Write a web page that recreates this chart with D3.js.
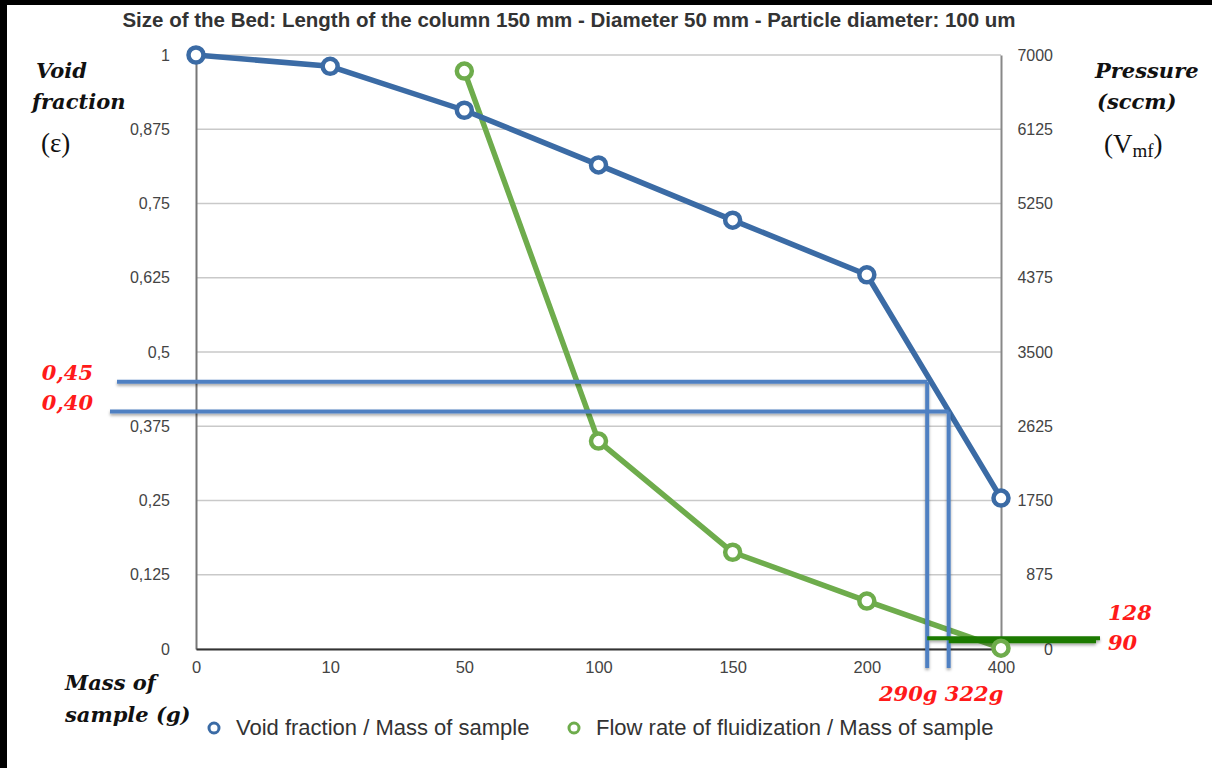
<!DOCTYPE html>
<html><head><meta charset="utf-8">
<script src="https://cdn.jsdelivr.net/npm/d3@7"></script>
<style>
html,body{margin:0;padding:0;background:#fff;}
svg{display:block;}
</style></head><body>
<svg id="chart" width="1212" height="768"></svg>
<script>
// Mass of sample (g) — categorical x positions
const masses = ["0", "10", "50", "100", "150", "200", "400"];
// Void fraction (ε) for each mass
const voidFraction = [1.0, 0.981, 0.907, 0.815, 0.722, 0.630, 0.254];
// Flow rate of fluidization (sccm), measured from 50 g upward
const flowMasses = ["50", "100", "150", "200", "400"];
const flowRate = [6810, 2450, 1140, 565, 10];
// Axis ticks
const leftTicks = [0, 0.125, 0.25, 0.375, 0.5, 0.625, 0.75, 0.875, 1];
const rightTicks = [0, 875, 1750, 2625, 3500, 4375, 5250, 6125, 7000];
// Read-off guides: mass, void fraction and flow rate
const crossMass = [290, 322];
const crossVoid = [0.45, 0.40];
const crossFlow = [128, 90];

const titleText = "Size of the Bed: Length of the column 150 mm - Diameter 50 mm - Particle diameter: 100 um";
const seriesNames = ["Void fraction / Mass of sample", "Flow rate of fluidization / Mass of sample"];

const BLUE = "#3b6ba5", GREEN = "#6eac4c", GUIDE_BLUE = "#4f80c2", GUIDE_GREEN = "#1c7a05";
const SANS = "'Liberation Sans', Arial, sans-serif";
const SERIF = "'DejaVu Serif', 'Liberation Serif', serif";

const svg = d3.select("#chart");
const plot = {left: 196, right: 1001, top: 55, bottom: 649};

const x = d3.scalePoint().domain(masses).range([plot.left, plot.right]).padding(0);
// continuous mass scale that follows the categorical positions, for the read-off guides
const xMass = d3.scaleLinear().domain(masses.map(Number)).range(masses.map(m => x(m)));
const yL = d3.scaleLinear().domain([0, 1]).range([plot.bottom, plot.top]);
const yR = d3.scaleLinear().domain([0, 7000]).range([plot.bottom, plot.top]);

const defs = svg.append("defs");
const sh = defs.append("filter").attr("id", "shadow").attr("x", "-10%").attr("y", "-200%").attr("width", "120%").attr("height", "500%");
sh.append("feDropShadow").attr("dx", 0).attr("dy", 2).attr("stdDeviation", 1.5).attr("flood-color", "#000").attr("flood-opacity", 0.35);

// frame
svg.append("rect").attr("x", 0).attr("y", 0).attr("width", 1212).attr("height", 768).attr("fill", "#fff");
svg.append("line").attr("x1", 0).attr("x2", 1212).attr("y1", 2.5).attr("y2", 2.5).attr("stroke", "#000").attr("stroke-width", 5);
svg.append("line").attr("x1", 3.5).attr("x2", 3.5).attr("y1", 0).attr("y2", 768).attr("stroke", "#000").attr("stroke-width", 7);

// title
svg.append("text").attr("x", 569).attr("y", 27).attr("text-anchor", "middle")
  .attr("font-family", SANS).attr("font-weight", "bold").attr("font-size", 20.5).attr("fill", "#333")
  .text(titleText);

// grid
svg.append("g").selectAll("line").data(leftTicks).join("line")
  .attr("x1", plot.left).attr("x2", plot.right)
  .attr("y1", d => yL(d)).attr("y2", d => yL(d))
  .attr("stroke", "#c9c9c9").attr("stroke-width", 1.5);

// left axis
const fmtComma = d => String(d).replace(".", ",");
const gL = svg.append("g").attr("transform", `translate(${plot.left},0)`)
  .call(d3.axisLeft(yL).tickValues(leftTicks).tickFormat(fmtComma).tickSize(0).tickPadding(26));
gL.select(".domain").attr("stroke", "#777").attr("stroke-width", 2);
gL.selectAll("text").attr("font-family", SANS).attr("font-size", 16).attr("fill", "#444");

// right axis
const gR = svg.append("g").attr("transform", `translate(${plot.right},0)`)
  .call(d3.axisRight(yR).tickValues(rightTicks).tickFormat(d3.format("d")).tickSize(0).tickPadding(52));
gR.select(".domain").attr("stroke", "#888").attr("stroke-width", 2);
gR.selectAll("text").attr("text-anchor", "end").attr("font-family", SANS).attr("font-size", 16).attr("fill", "#444");

// bottom axis
const gB = svg.append("g").attr("transform", `translate(0,${plot.bottom})`)
  .call(d3.axisBottom(x).tickSize(0).tickPadding(12));
gB.select(".domain").attr("stroke", "#333").attr("stroke-width", 2);
gB.selectAll("text").attr("font-family", SANS).attr("font-size", 16.5).attr("fill", "#444");

// series
const voidPts = masses.map((m, i) => [x(m), yL(voidFraction[i])]);
const flowPts = flowMasses.map((m, i) => [x(m), yR(flowRate[i])]);
const line = d3.line();

svg.append("path").attr("d", line(flowPts)).attr("fill", "none").attr("stroke", GREEN).attr("stroke-width", 5.5).attr("stroke-linejoin", "round");
svg.append("path").attr("d", line(voidPts)).attr("fill", "none").attr("stroke", BLUE).attr("stroke-width", 5.5).attr("stroke-linejoin", "round");

// read-off guides
const gG = svg.append("g").attr("filter", "url(#shadow)");
const guideLeft = [117, 110];
crossMass.forEach((m, i) => {
  const gx = xMass(m);
  gG.append("line").attr("x1", guideLeft[i]).attr("x2", gx).attr("y1", yL(crossVoid[i])).attr("y2", yL(crossVoid[i]))
    .attr("stroke", GUIDE_BLUE).attr("stroke-width", 4);
  gG.append("line").attr("x1", gx).attr("x2", gx).attr("y1", yL(crossVoid[i])).attr("y2", 668)
    .attr("stroke", GUIDE_BLUE).attr("stroke-width", 4);
});
const guideRight = [1100, 1096];
crossMass.forEach((m, i) => {
  gG.append("line").attr("x1", xMass(m)).attr("x2", guideRight[i]).attr("y1", yR(crossFlow[i])).attr("y2", yR(crossFlow[i]))
    .attr("stroke", GUIDE_GREEN).attr("stroke-width", 4);
});

// markers
svg.append("g").selectAll("circle").data(flowPts).join("circle")
  .attr("cx", d => d[0]).attr("cy", d => d[1]).attr("r", 7.5)
  .attr("fill", "#fff").attr("stroke", GREEN).attr("stroke-width", 4.5);
svg.append("g").selectAll("circle").data(voidPts).join("circle")
  .attr("cx", d => d[0]).attr("cy", d => d[1]).attr("r", 7.5)
  .attr("fill", "#fff").attr("stroke", BLUE).attr("stroke-width", 4.5);

// axis titles
function label(xp, yp, txt, opts = {}) {
  return svg.append("text").attr("x", xp).attr("y", yp)
    .attr("font-family", opts.family || SERIF).attr("font-size", opts.size || 21)
    .attr("font-weight", opts.weight || "bold").attr("font-style", opts.style || "italic")
    .attr("fill", opts.fill || "#111").attr("text-anchor", opts.anchor || "start")
    .text(txt);
}
label(36, 78, "Void");
label(32, 109, "fraction");
label(41, 152, "(ε)", {weight: "normal", style: "normal", size: 27, family: "'Liberation Serif', serif"});
label(1095, 78, "Pressure");
label(1097, 109, "(sccm)");
const vmf = label(1104, 153, "", {weight: "normal", style: "normal", size: 27, family: "'Liberation Serif', serif"});
vmf.append("tspan").text("(V");
vmf.append("tspan").attr("font-size", 19).attr("dy", 4).text("mf");
vmf.append("tspan").attr("dy", -4).text(")");
label(65, 690, "Mass of");
label(65, 722, "sample (g)");

// guide value labels
const RED = "#ff1a1a";
label(93, 380, fmtComma(crossVoid[0].toFixed(2)), {fill: RED, anchor: "end"});
label(93, 410, fmtComma(crossVoid[1].toFixed(2)), {fill: RED, anchor: "end"});
label(1108, 620, String(crossFlow[0]), {fill: RED});
label(1108, 650, String(crossFlow[1]), {fill: RED});
label(879, 701, `${crossMass[0]}g ${crossMass[1]}g`, {fill: RED});

// legend
const legend = svg.append("g");
const legendItems = [{x: 214, c: BLUE, t: seriesNames[0]}, {x: 574, c: GREEN, t: seriesNames[1]}];
legendItems.forEach(it => {
  legend.append("circle").attr("cx", it.x).attr("cy", 728).attr("r", 5)
    .attr("fill", "#fff").attr("stroke", it.c).attr("stroke-width", 3);
  legend.append("text").attr("x", it.x + 22).attr("y", 735)
    .attr("font-family", SANS).attr("font-size", 22).attr("fill", "#333").text(it.t);
});
</script>
</body></html>
